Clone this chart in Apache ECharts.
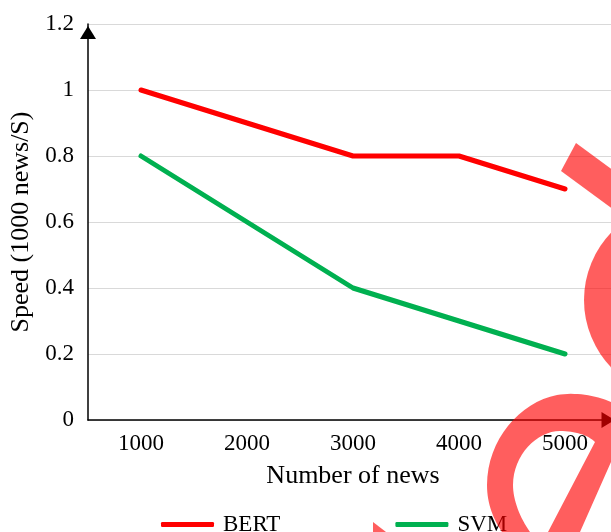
<!DOCTYPE html>
<html>
<head>
<meta charset="utf-8">
<script src="https://cdn.jsdelivr.net/npm/echarts@6/dist/echarts.min.js"></script>
<style>
html,body{margin:0;padding:0;background:#fff;}
#chart{width:611px;height:532px;}
</style>
</head>
<body>
<div id="chart"></div>
<script>
var categories = ['1000', '2000', '3000', '4000', '5000'];
var bertValues = [1.0, 0.9, 0.8, 0.8, 0.7];
var svmValues = [0.8, 0.6, 0.4, 0.3, 0.2];
var seriesNames = ['BERT', 'SVM'];
var seriesColors = ['#FF0000', '#00B050'];
var xAxisTitle = 'Number of news';
var yAxisTitle = 'Speed (1000 news/S)';

var FONT = '"Liberation Serif", "Times New Roman", serif';
var WM = 'rgba(255,0,0,0.63)';

// watermark outline helper (decoration only)
function shapePoints(start, segs) {
  var pts = [start.slice()];
  var cur = start.slice();
  segs.forEach(function (s) {
    if (s.length === 2) { pts.push(s.slice()); cur = s.slice(); return; }
    var p1 = s[0], p2 = s[1], p3 = s[2];
    for (var i = 1; i <= 16; i++) {
      var t = i / 16, u = 1 - t;
      pts.push([
        u*u*u*cur[0] + 3*u*u*t*p1[0] + 3*u*t*t*p2[0] + t*t*t*p3[0],
        u*u*u*cur[1] + 3*u*u*t*p1[1] + 3*u*t*t*p2[1] + t*t*t*p3[1]
      ]);
    }
    cur = p3.slice();
  });
  return pts;
}
var ringPts = shapePoints([502, 532], [
  [[494, 520], [487, 505], [487, 485]],
  [[487, 440], [520, 402], [557, 395]],
  [[575, 392], [595, 395], [611, 402]],
  [611, 462], [580, 532], [548, 532], [595, 442],
  [[588, 435], [575, 431], [560, 431]],
  [[537, 431], [513, 455], [513, 485]],
  [[513, 500], [520, 518], [530, 532]]
]);

var chart = echarts.init(document.getElementById('chart'), null, {renderer: 'canvas'});
chart.setOption({
  animation: false,
  backgroundColor: '#fff',
  grid: {left: 88, top: 24, width: 530, height: 396, containLabel: false, outerBoundsMode: 'none'},
  legend: {
    data: seriesNames,
    left: 156,
    top: 508,
    itemWidth: 53,
    itemHeight: 5,
    itemGap: 115,
    icon: 'roundRect',
    textStyle: {fontFamily: FONT, fontSize: 23, color: '#000', padding: [0, 0, 0, 4]}
  },
  xAxis: {
    type: 'category',
    data: categories,
    boundaryGap: true,
    name: xAxisTitle,
    nameLocation: 'middle',
    nameGap: 43,
    nameTextStyle: {fontFamily: FONT, fontSize: 26, color: '#000'},
    axisLine: {show: true, lineStyle: {color: '#000', width: 1.5}, symbol: ['none', 'triangle'], symbolSize: [16, 13], symbolOffset: [0, -10]},
    axisTick: {show: false},
    axisLabel: {fontFamily: FONT, fontSize: 23, color: '#000', margin: 12},
    splitLine: {show: false}
  },
  yAxis: {
    type: 'value',
    min: 0,
    max: 1.2,
    interval: 0.2,
    name: yAxisTitle,
    nameLocation: 'middle',
    nameGap: 54,
    nameTextStyle: {fontFamily: FONT, fontSize: 26, color: '#000'},
    axisLine: {show: true, lineStyle: {color: '#000', width: 1.5}, symbol: ['none', 'triangle'], symbolSize: [16, 13], symbolOffset: [0, -8.5]},
    axisTick: {show: false},
    axisLabel: {fontFamily: FONT, fontSize: 23, color: '#000', margin: 14,
      formatter: function (v) { return String(Math.round(v * 10) / 10); }},
    splitLine: {show: true, lineStyle: {color: '#d9d9d9', width: 1.2}}
  },
  series: [
    {name: seriesNames[0], type: 'line', data: bertValues, symbol: 'none', color: seriesColors[0],
     lineStyle: {width: 5, color: seriesColors[0], cap: 'round', join: 'round'}},
    {name: seriesNames[1], type: 'line', data: svmValues, symbol: 'none', color: seriesColors[1],
     lineStyle: {width: 5, color: seriesColors[1], cap: 'round', join: 'round'}}
  ],
  graphic: [
    {type: 'polygon', z: 100, silent: true,
     shape: {points: [[576, 143], [561, 171], [625, 218], [640, 190]]}, style: {fill: WM}},
    {type: 'circle', z: 100, silent: true,
     shape: {cx: 681, cy: 300, r: 97}, style: {fill: WM}},
    {type: 'polygon', z: 100, silent: true,
     shape: {points: ringPts}, style: {fill: WM}},
    {type: 'polygon', z: 100, silent: true,
     shape: {points: [[373, 522], [373, 545], [403, 545]]}, style: {fill: WM}}
  ]
});
</script>
</body>
</html>
